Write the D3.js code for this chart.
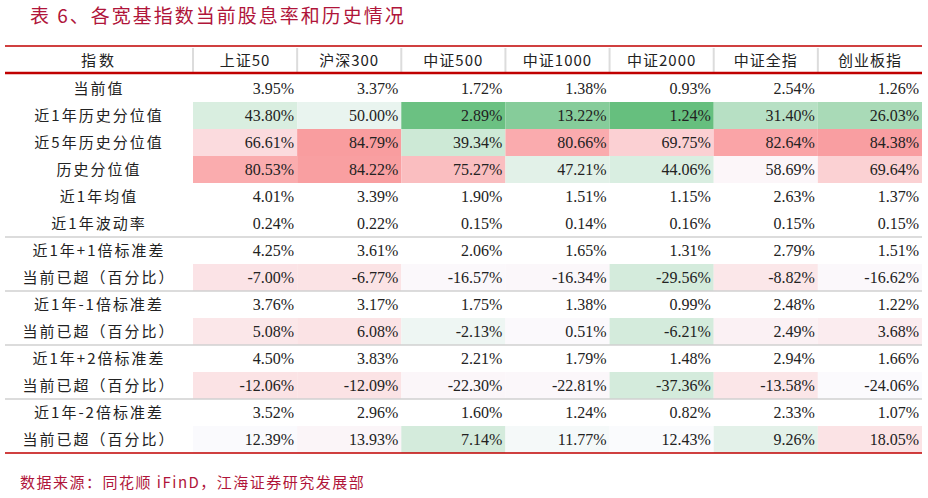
<!DOCTYPE html>
<html><head><meta charset="utf-8">
<script src="https://cdn.jsdelivr.net/npm/d3@7"></script>
<style>body{margin:0;background:#fff}</style></head>
<body><svg id="c" width="928" height="498"></svg>
<script>
const title = "表 6、各宽基指数当前股息率和历史情况";
const source = "数据来源：同花顺 iFinD，江海证券研究发展部";
const headerLabel = "指数";
const columns = ["上证50","沪深300","中证500","中证1000","中证2000","中证全指","创业板指"];
const rowLabels = ["当前值","近1年历史分位值","近5年历史分位值","历史分位值","近1年均值","近1年波动率",
 "近1年+1倍标准差","当前已超（百分比）","近1年-1倍标准差","当前已超（百分比）",
 "近1年+2倍标准差","当前已超（百分比）","近1年-2倍标准差","当前已超（百分比）"];
const rowCurrent = [3.95,3.37,1.72,1.38,0.93,2.54,1.26];
const rowPct1y = [43.80,50.00,2.89,13.22,1.24,31.40,26.03];
const rowPct5y = [66.61,84.79,39.34,80.66,69.75,82.64,84.38];
const rowPctAll = [80.53,84.22,75.27,47.21,44.06,58.69,69.64];
const rowMean = [4.01,3.39,1.90,1.51,1.15,2.63,1.37];
const rowVol = [0.24,0.22,0.15,0.14,0.16,0.15,0.15];
const rowP1 = [4.25,3.61,2.06,1.65,1.31,2.79,1.51];
const rowP1x = [-7.00,-6.77,-16.57,-16.34,-29.56,-8.82,-16.62];
const rowM1 = [3.76,3.17,1.75,1.38,0.99,2.48,1.22];
const rowM1x = [5.08,6.08,-2.13,0.51,-6.21,2.49,3.68];
const rowP2 = [4.50,3.83,2.21,1.79,1.48,2.94,1.66];
const rowP2x = [-12.06,-12.09,-22.30,-22.81,-37.36,-13.58,-24.06];
const rowM2 = [3.52,2.96,1.60,1.24,0.82,2.33,1.07];
const rowM2x = [12.39,13.93,7.14,11.77,12.43,9.26,18.05];
const rows = [rowCurrent,rowPct1y,rowPct5y,rowPctAll,rowMean,rowVol,rowP1,rowP1x,rowM1,rowM1x,rowP2,rowP2x,rowM2,rowM2x];
const pctRows = [1,2,3];
const excessRows = [7,9,11,13];

const svg = d3.select("#c");
const red = "#c00000";
const cjk = "'Noto Sans CJK SC', sans-serif";
const num = "'Liberation Serif', serif";
const left = 5, labelW = 188, right = 922;
const tableTop = 46, headH = 27, rowH = 27;
const bodyTop = tableTop + headH + 2;
const x = d3.scaleBand().domain(columns).range([left + labelW, right]);
const y = d3.scaleBand().domain(d3.range(rows.length)).range([bodyTop, bodyTop + rowH * rows.length]);

svg.append("text").attr("x", 30).attr("y", 23).attr("fill", "#b0153a")
  .attr("font-family", cjk).attr("font-size", 19).attr("letter-spacing", 2).text(title);

const pctColor = d3.scaleLinear().domain([0,57,100]).range(["#63be7b","#fcfcff","#f8696b"]);

rows.forEach((vals, r) => {
  let color = null;
  if (pctRows.includes(r)) color = pctColor;
  else if (excessRows.includes(r)) {
    const [mn, mx] = d3.extent(vals);
    color = d3.scaleLinear().domain([mn, (mn+mx)/2, mx]).range(["#d4ebdc","#fbfbfe","#fbe3e5"]);
  }
  vals.forEach((v, i) => {
    if (color) svg.append("rect").attr("x", x(columns[i])).attr("y", y(r))
      .attr("width", x.bandwidth()).attr("height", y.bandwidth()).attr("fill", color(v));
    svg.append("text").attr("x", x(columns[i]) + x.bandwidth() - 3).attr("y", y(r) + rowH/2 + 5)
      .attr("text-anchor", "end").attr("font-family", num).attr("font-size", 16).attr("fill", "#222")
      .text(v.toFixed(2) + "%");
  });
  svg.append("text").attr("x", left + labelW/2).attr("y", y(r) + rowH/2 + 5).attr("text-anchor", "middle")
    .attr("font-family", cjk).attr("font-size", 15).attr("letter-spacing", 2).attr("fill", "#222").text(rowLabels[r]);
});

[6, 8, 10, 12].forEach(r => svg.append("line").attr("x1", left).attr("x2", right)
  .attr("y1", y(r)).attr("y2", y(r)).attr("stroke", "#d0d0d0").attr("stroke-width", 1.5));

svg.append("text").attr("x", left + labelW/2).attr("y", tableTop + headH/2 + 6).attr("text-anchor", "middle")
  .attr("font-family", cjk).attr("font-size", 15).attr("letter-spacing", 3).attr("fill", "#222").text(headerLabel);
columns.forEach(c => {
  svg.append("text").attr("x", x(c) + x.bandwidth()/2).attr("y", tableTop + headH/2 + 6).attr("text-anchor", "middle")
    .attr("font-family", cjk).attr("font-size", 15).attr("letter-spacing", 1).attr("fill", "#222").text(c);
  svg.append("line").attr("x1", x(c)).attr("x2", x(c)).attr("y1", tableTop + 2).attr("y2", tableTop + headH - 1)
    .attr("stroke", "#dcdcdc").attr("stroke-width", 2);
});
svg.append("line").attr("x1", left).attr("x2", right).attr("y1", tableTop).attr("y2", tableTop).attr("stroke", red).attr("stroke-width", 1.5);
svg.append("line").attr("x1", left).attr("x2", right).attr("y1", tableTop + headH).attr("y2", tableTop + headH).attr("stroke", red).attr("stroke-width", 2.5);
svg.append("line").attr("x1", left).attr("x2", right).attr("y1", y.range()[1]).attr("y2", y.range()[1]).attr("stroke", red).attr("stroke-width", 1.5);

svg.append("text").attr("x", 20).attr("y", 488).attr("fill", "#b0153a")
  .attr("font-family", cjk).attr("font-size", 15).attr("letter-spacing", 1.5).text(source);
</script></body></html>
